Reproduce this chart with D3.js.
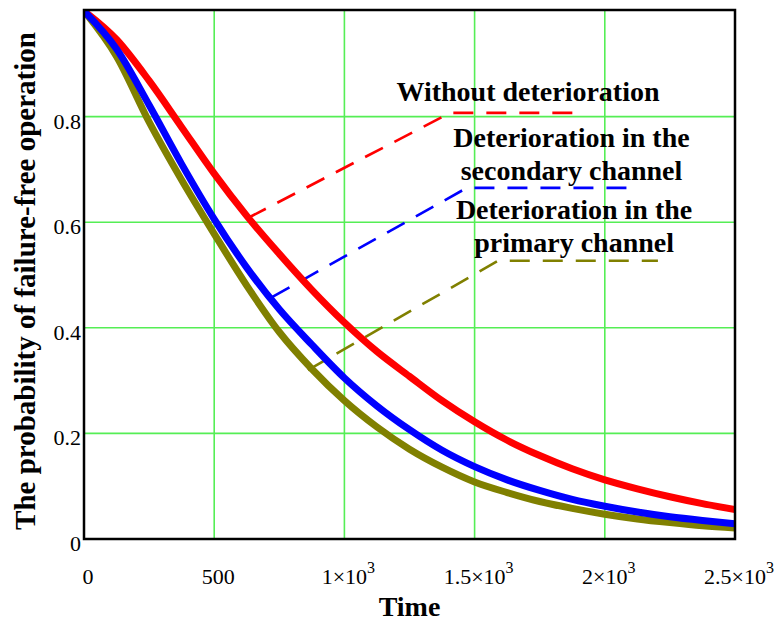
<!DOCTYPE html>
<html>
<head>
<meta charset="utf-8">
<script src="https://cdn.jsdelivr.net/npm/d3@7"></script>
<style>
  body { margin: 0; background: #fff; }
  svg { display: block; }
  text { font-family: "Liberation Serif", "Times New Roman", serif; fill: #000; }
  .tick-label { font-size: 22px; }
  .title { font-size: 28px; font-weight: bold; }
  .ytitle { font-size: 29px; font-weight: bold; }
  .note { font-size: 28px; font-weight: bold; }
</style>
</head>
<body>
<div id="chart"></div>
<script>
// time points
var times = [0, 125, 250, 375, 500, 625, 750, 875, 1000, 1125, 1250, 1375, 1500, 1625, 1750, 1875, 2000, 2125, 2250, 2375, 2500];

var withoutDeterioration = [1.0, 0.946, 0.868, 0.78, 0.692, 0.612, 0.54, 0.472, 0.41, 0.355, 0.308, 0.262, 0.222, 0.187, 0.158, 0.133, 0.112, 0.095, 0.08, 0.067, 0.056];
var secondaryChannel = [1.0, 0.928, 0.822, 0.71, 0.606, 0.514, 0.435, 0.368, 0.305, 0.252, 0.207, 0.168, 0.137, 0.112, 0.092, 0.075, 0.062, 0.051, 0.042, 0.035, 0.029];
var primaryChannel = [1.0, 0.914, 0.79, 0.68, 0.578, 0.48, 0.392, 0.322, 0.262, 0.212, 0.17, 0.136, 0.108, 0.088, 0.071, 0.058, 0.047, 0.038, 0.031, 0.025, 0.021];

var xTicks = [0, 500, 1000, 1500, 2000, 2500];
var xTickLabels = [['0'], ['500'], ['1\u00d710', '3'], ['1.5\u00d710', '3'], ['2\u00d710', '3'], ['2.5\u00d710', '3']];
var yTicks = [0, 0.2, 0.4, 0.6, 0.8];
var yTickLabels = ['0', '0.2', '0.4', '0.6', '0.8'];

// leaders: [time, probability] points
var notes = [
  { lines: ['Without deterioration'], at: [1705, 0.83], color: '#ff0000',
    leader: [[630, 0.608], [1405, 0.807], [1924, 0.807]] },
  { lines: ['Deterioration in the', 'secondary channel'], at: [1872, 0.742], color: '#0000ff',
    leader: [[722, 0.458], [1470, 0.665], [2089, 0.665]] },
  { lines: ['Deterioration in the', 'primary channel'], at: [1882, 0.607], color: '#808000',
    leader: [[860, 0.32], [1590, 0.527], [2204, 0.527]] }
];

var series = [
  { values: primaryChannel, color: '#808000' },
  { values: withoutDeterioration, color: '#ff0000' },
  { values: secondaryChannel, color: '#0000ff' }
];

var width = 779, height = 626;
var plotLeft = 84, plotRight = 735, plotTop = 10, plotBottom = 539;

var svg = d3.select('#chart').append('svg')
  .attr('width', width)
  .attr('height', height);

var x = d3.scaleLinear().domain([0, 2500]).range([plotLeft, plotRight]);
var y = d3.scaleLinear().domain([0, 1]).range([plotBottom, plotTop + 1]);

svg.append('clipPath').attr('id', 'plot-clip')
  .append('rect')
  .attr('x', plotLeft).attr('y', plotTop)
  .attr('width', plotRight - plotLeft).attr('height', plotBottom - plotTop);

// grid
var grid = svg.append('g').attr('stroke', '#55ee55').attr('stroke-width', 1.6);
grid.selectAll('.vgrid')
  .data(xTicks.slice(1, -1))
  .enter().append('line')
  .attr('x1', function (d) { return x(d); })
  .attr('x2', function (d) { return x(d); })
  .attr('y1', plotTop).attr('y2', plotBottom);
grid.selectAll('.hgrid')
  .data(yTicks.slice(1))
  .enter().append('line')
  .attr('y1', function (d) { return y(d); })
  .attr('y2', function (d) { return y(d); })
  .attr('x1', plotLeft).attr('x2', plotRight);

// leader lines
var line = d3.line()
  .x(function (d) { return x(d[0]); })
  .y(function (d) { return y(d[1]); });

svg.append('g').selectAll('path')
  .data(notes)
  .enter().append('path')
  .attr('d', function (d) { return line(d.leader); })
  .attr('fill', 'none')
  .attr('stroke', function (d) { return d.color; })
  .attr('stroke-width', 2.6)
  .attr('stroke-dasharray', '20,13');

// curves
var curve = d3.line()
  .x(function (d, i) { return x(times[i]); })
  .y(function (d) { return y(d); })
  .curve(d3.curveMonotoneX);

svg.append('g').attr('clip-path', 'url(#plot-clip)')
  .selectAll('path')
  .data(series)
  .enter().append('path')
  .attr('d', function (d) { return curve(d.values); })
  .attr('fill', 'none')
  .attr('stroke', function (d) { return d.color; })
  .attr('stroke-linejoin', 'round')
  .attr('stroke-width', 7);

// frame
svg.append('rect')
  .attr('x', plotLeft).attr('y', plotTop)
  .attr('width', plotRight - plotLeft).attr('height', plotBottom - plotTop)
  .attr('fill', 'none')
  .attr('stroke', '#000')
  .attr('stroke-width', 2.5);

// y tick labels
svg.append('g').selectAll('text')
  .data(yTicks)
  .enter().append('text')
  .attr('class', 'tick-label')
  .attr('x', plotLeft - 3)
  .attr('y', function (d) { return y(d) + 12; })
  .attr('text-anchor', 'end')
  .text(function (d, i) { return yTickLabels[i]; });

// x tick labels
var xl = svg.append('g').selectAll('text')
  .data(xTicks)
  .enter().append('text')
  .attr('class', 'tick-label')
  .attr('x', function (d) { return x(d) + 4; })
  .attr('y', 584)
  .attr('text-anchor', 'middle');
xl.each(function (d, i) {
  var t = d3.select(this);
  var parts = xTickLabels[i];
  t.append('tspan').text(parts[0]);
  if (parts[1]) {
    t.append('tspan').attr('dy', -11).attr('font-size', '16px').text(parts[1]);
  }
});

// axis titles
svg.append('text')
  .attr('class', 'title')
  .attr('x', (plotLeft + plotRight) / 2)
  .attr('y', 616)
  .attr('text-anchor', 'middle')
  .text('Time');

svg.append('text')
  .attr('class', 'ytitle')
  .attr('transform', 'translate(35,' + 281 + ') rotate(-90)')
  .attr('text-anchor', 'middle')
  .text('The probability of failure-free operation');

// annotation labels
notes.forEach(function (n) {
  var t = svg.append('text')
    .attr('class', 'note')
    .attr('text-anchor', 'middle')
    .attr('x', x(n.at[0]))
    .attr('y', y(n.at[1]));
  n.lines.forEach(function (s, i) {
    t.append('tspan')
      .attr('x', x(n.at[0]))
      .attr('dy', i === 0 ? 0 : 33)
      .text(s);
  });
});
</script>
</body>
</html>
